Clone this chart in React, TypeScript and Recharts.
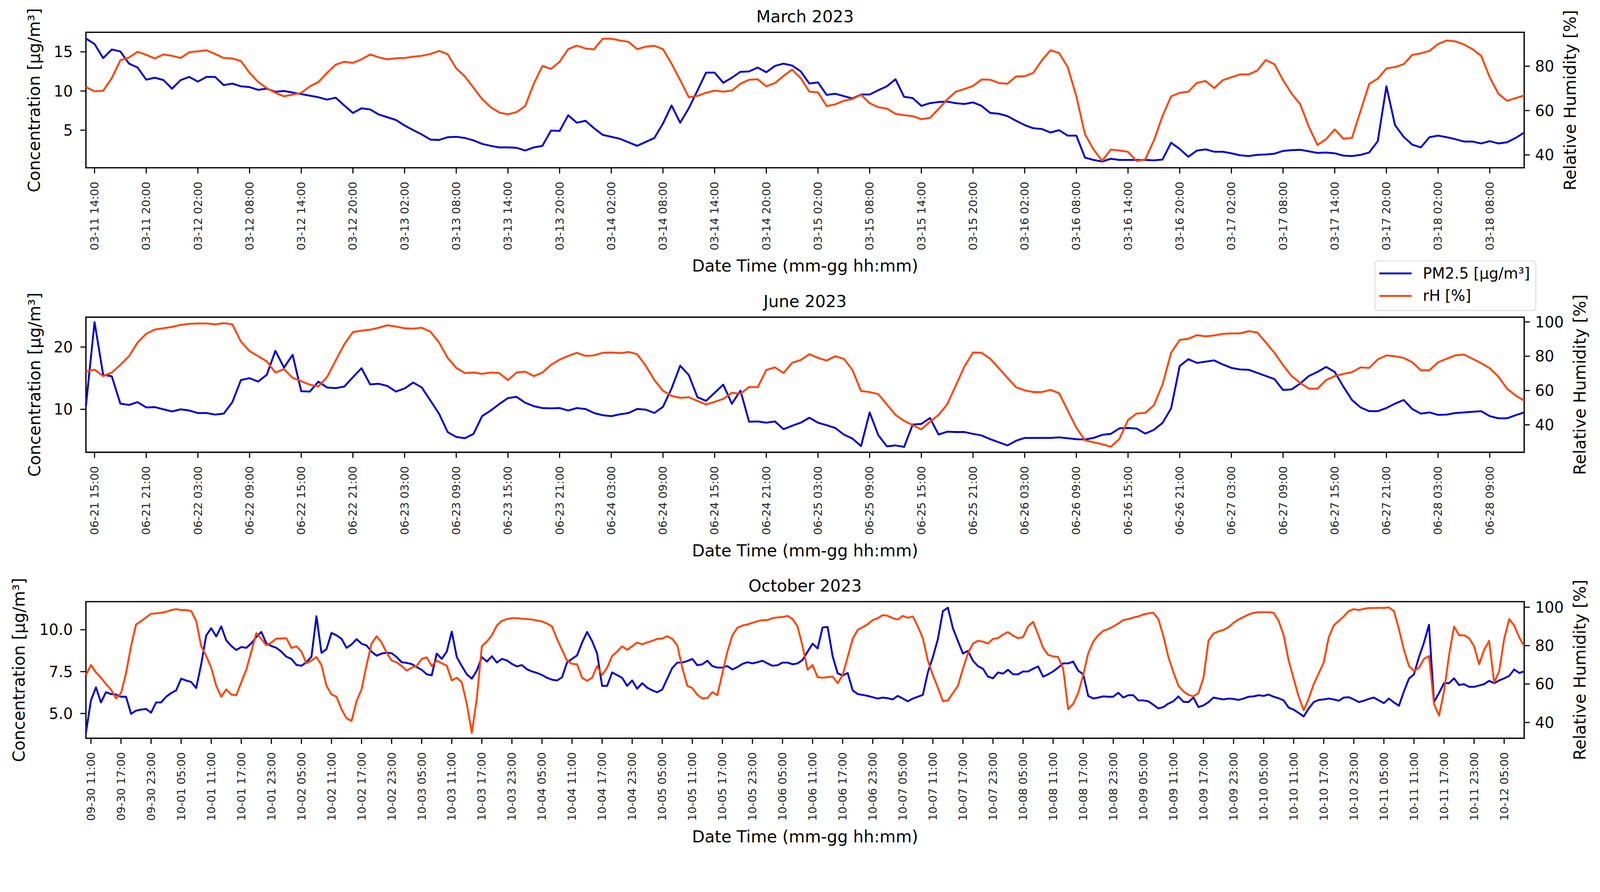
import React, { useEffect, useState } from "react";
import { LineChart, Line, XAxis, YAxis, ReferenceArea } from "recharts";

const FONT = "'DejaVu Sans', 'Noto Sans', sans-serif";
const PM_COLOR = "#0000cd";
const RH_COLOR = "#ff4500";

const PAGE_W = 4264;
const PAGE_H = 2283;
const PLOT_LEFT = 229;
const PLOT_RIGHT = 4062;
const AXIS_W = 120;
const X_AXIS_H = 300;
const TOP_PAD = 86;

// ---------- March 2023, hourly from 03-11 13:00
const marchStart = "03-11 13:00";
const marchPm = [
  16.7, 16.0, 14.2, 15.3, 15.05, 13.5, 13.0, 11.45, 11.7, 11.4, 10.3, 11.4,
  11.8, 11.2, 11.8, 11.8, 10.75, 10.95, 10.6, 10.5, 10.15, 10.3, 9.9, 10.0,
  9.8, 9.6, 9.4, 9.2, 8.9, 9.15, 8.15, 7.2, 7.8, 7.65, 7.0, 6.65,
  6.3, 5.6, 5.0, 4.45, 3.8, 3.75, 4.1, 4.15, 4.0, 3.7, 3.25, 3.0,
  2.8, 2.8, 2.75, 2.4, 2.8, 3.0, 4.95, 4.9, 6.9, 5.95, 6.2, 5.25,
  4.4, 4.15, 3.9, 3.45, 3.0, 3.5, 4.0, 5.85, 8.15, 5.95, 7.8, 10.05,
  12.35, 12.35, 11.05, 11.7, 12.45, 12.5, 13.0, 12.4, 13.2, 13.5, 13.25, 12.5,
  10.95, 11.1, 9.5, 9.65, 9.35, 9.05, 9.55, 9.55, 10.1, 10.6, 11.5, 9.25,
  9.1, 8.1, 8.45, 8.6, 8.65, 8.45, 8.35, 8.55, 8.1, 7.2, 7.1, 6.8,
  6.2, 5.65, 5.25, 5.15, 4.7, 5.0, 4.3, 4.3, 1.5, 1.2, 1.0, 1.35,
  1.2, 1.2, 1.2, 1.2, 1.15, 1.25, 3.4, 2.6, 1.6, 2.4, 2.55, 2.25,
  2.25, 2.05, 1.8, 1.7, 1.85, 1.9, 2.0, 2.35, 2.45, 2.5, 2.3, 2.1,
  2.15, 2.05, 1.75, 1.7, 1.85, 2.15, 3.6, 10.6, 5.65, 4.15, 3.15, 2.8,
  4.1, 4.3, 4.1, 3.85, 3.55, 3.55, 3.3, 3.6, 3.3, 3.45, 4.0, 4.7,
];
const marchRh = [
  70.6, 68.7, 68.9, 74.6, 82.7, 83.9, 86.5, 85.1, 83.5, 85.3, 84.7, 83.7,
  86.3, 86.7, 87.2, 85.5, 83.7, 83.5, 82.3, 77.0, 72.9, 70.1, 68.0, 66.4,
  67.2, 68.0, 70.9, 72.9, 77.0, 80.7, 82.0, 81.5, 83.1, 85.3, 84.0, 83.1,
  83.6, 83.7, 84.3, 84.7, 85.5, 86.9, 85.4, 79.0, 75.4, 70.3, 65.2, 61.5,
  59.1, 58.3, 59.3, 62.0, 72.1, 80.1, 78.8, 82.0, 87.7, 89.3, 88.0, 87.6,
  92.4, 92.4, 91.6, 91.0, 87.7, 88.8, 89.2, 87.7, 81.1, 73.7, 66.0, 66.6,
  68.0, 69.0, 68.5, 69.0, 72.1, 73.9, 74.1, 70.9, 72.4, 75.6, 78.5, 74.6,
  68.5, 68.2, 62.0, 62.8, 64.4, 65.2, 67.1, 63.3, 61.5, 60.9, 58.5, 57.9,
  57.5, 56.1, 56.7, 60.7, 65.0, 68.5, 69.7, 71.1, 74.0, 73.9, 72.4, 72.1,
  75.4, 75.5, 77.0, 82.7, 87.2, 85.9, 79.6, 66.4, 49.3, 42.4, 37.3, 42.4,
  42.0, 41.4, 37.2, 38.0, 46.5, 57.5, 66.4, 68.0, 68.5, 72.5, 73.3, 70.1,
  73.7, 75.0, 76.3, 76.3, 78.0, 82.8, 80.9, 73.7, 67.6, 62.8, 52.6, 44.5,
  47.1, 51.5, 47.3, 47.7, 59.8, 72.0, 74.4, 79.0, 79.6, 80.9, 85.1, 85.8,
  86.9, 90.0, 91.6, 91.2, 89.8, 87.7, 84.7, 75.0, 67.6, 64.4, 65.6, 66.8,
];
const marchTicks = [
  "03-11 14:00", "03-11 20:00", "03-12 02:00", "03-12 08:00", "03-12 14:00", "03-12 20:00",
  "03-13 02:00", "03-13 08:00", "03-13 14:00", "03-13 20:00", "03-14 02:00", "03-14 08:00",
  "03-14 14:00", "03-14 20:00", "03-15 02:00", "03-15 08:00", "03-15 14:00", "03-15 20:00",
  "03-16 02:00", "03-16 08:00", "03-16 14:00", "03-16 20:00", "03-17 02:00", "03-17 08:00",
  "03-17 14:00", "03-17 20:00", "03-18 02:00", "03-18 08:00",
];

// ---------- June 2023, hourly from 06-21 14:00
const juneStart = "06-21 14:00";
const junePm = [
  10.55, 24.0, 15.55, 15.3, 10.9, 10.7, 11.15, 10.3, 10.35, 10.0, 9.65, 10.0,
  9.8, 9.4, 9.4, 9.15, 9.3, 11.15, 14.7, 15.0, 14.45, 15.55, 19.4, 16.7,
  18.75, 12.9, 12.85, 14.45, 13.5, 13.4, 13.65, 15.15, 16.6, 14.0, 14.1, 13.75,
  12.85, 13.35, 14.3, 13.5, 11.4, 9.3, 6.35, 5.55, 5.35, 6.05, 8.9, 9.8,
  10.85, 11.8, 12.0, 11.05, 10.5, 10.2, 10.15, 10.2, 9.8, 10.2, 10.05, 9.4,
  9.05, 8.9, 9.2, 9.4, 10.05, 9.95, 9.4, 10.4, 13.35, 17.0, 15.5, 11.95,
  11.35, 12.65, 13.95, 10.9, 13.0, 8.0, 8.05, 7.85, 8.05, 6.8, 7.35, 7.85,
  8.65, 7.85, 7.45, 7.0, 5.95, 5.3, 4.1, 9.5, 5.85, 4.05, 4.2, 3.95,
  7.55, 7.65, 8.6, 5.95, 6.4, 6.35, 6.35, 6.05, 5.8, 5.2, 4.7, 4.2,
  4.95, 5.4, 5.4, 5.4, 5.4, 5.5, 5.35, 5.2, 5.15, 5.4, 5.9, 6.05,
  6.95, 7.0, 6.9, 6.1, 6.7, 7.8, 10.15, 16.95, 18.05, 17.45, 17.65, 17.85,
  17.2, 16.65, 16.4, 16.35, 15.85, 15.35, 14.85, 13.1, 13.2, 14.15, 15.35, 16.0,
  16.8, 16.0, 13.65, 11.5, 10.3, 9.7, 9.7, 10.2, 10.9, 11.5, 10.05, 9.3,
  9.5, 9.1, 9.15, 9.4, 9.5, 9.6, 9.7, 8.9, 8.55, 8.55, 9.05, 9.5,
];
const juneRh = [
  71.0, 72.2, 68.4, 70.5, 75.0, 80.0, 88.0, 93.1, 95.6, 96.3, 97.1, 98.3,
  98.9, 99.1, 99.1, 98.6, 99.3, 98.6, 88.5, 83.0, 80.0, 77.0, 70.5, 72.5,
  67.4, 65.4, 63.4, 62.4, 67.9, 77.5, 87.0, 94.1, 94.9, 95.5, 96.6, 98.1,
  97.3, 96.3, 96.1, 96.6, 94.3, 88.0, 79.0, 73.2, 70.2, 70.5, 69.7, 70.5,
  70.2, 66.1, 70.5, 71.0, 68.4, 70.5, 75.0, 78.0, 80.2, 82.0, 80.2, 80.5,
  82.0, 82.2, 81.8, 82.5, 81.2, 74.5, 66.1, 59.9, 56.9, 55.7, 56.1, 53.9,
  51.9, 53.4, 55.1, 58.7, 58.1, 62.1, 61.9, 72.0, 73.5, 70.2, 76.2, 77.8,
  81.2, 79.0, 77.5, 80.0, 78.5, 72.0, 59.7, 59.1, 57.9, 51.9, 45.8, 42.3,
  39.8, 37.3, 41.8, 45.8, 51.9, 62.9, 74.0, 82.2, 82.0, 78.5, 73.0, 67.4,
  61.9, 60.1, 59.1, 59.1, 60.4, 58.4, 48.3, 38.3, 31.0, 29.8, 28.7, 27.2,
  31.8, 42.8, 46.6, 47.0, 51.4, 63.4, 82.0, 89.5, 90.2, 92.3, 91.6, 92.1,
  93.1, 93.3, 93.3, 94.6, 93.9, 88.0, 82.0, 74.8, 68.4, 64.4, 61.1, 61.1,
  66.1, 68.4, 69.7, 70.7, 73.5, 73.2, 78.2, 80.5, 80.0, 79.0, 76.5, 71.8,
  71.8, 76.5, 78.5, 80.5, 81.0, 78.5, 76.0, 73.0, 68.1, 61.1, 57.1, 54.1,
];
const juneTicks = [
  "06-21 15:00", "06-21 21:00", "06-22 03:00", "06-22 09:00", "06-22 15:00", "06-22 21:00",
  "06-23 03:00", "06-23 09:00", "06-23 15:00", "06-23 21:00", "06-24 03:00", "06-24 09:00",
  "06-24 15:00", "06-24 21:00", "06-25 03:00", "06-25 09:00", "06-25 15:00", "06-25 21:00",
  "06-26 03:00", "06-26 09:00", "06-26 15:00", "06-26 21:00", "06-27 03:00", "06-27 09:00",
  "06-27 15:00", "06-27 21:00", "06-28 03:00", "06-28 09:00",
];

// ---------- October 2023, hourly from 09-30 10:00
const octStart = "09-30 10:00";
const octPm = [
  3.85, 5.78, 6.56, 5.66, 6.27, 6.16, 6.13, 6.0, 6.0, 4.98, 5.17, 5.23,
  5.27, 5.05, 5.66, 5.66, 6.0, 6.22, 6.38, 7.08, 6.97, 6.88, 6.52, 7.94,
  9.66, 10.09, 9.6, 10.2, 9.37, 9.03, 8.79, 8.97, 8.92, 9.19, 9.57, 9.87,
  9.19, 9.03, 8.92, 8.69, 8.39, 8.26, 7.9, 7.85, 8.06, 8.39, 10.81, 8.62,
  8.84, 9.81, 9.67, 9.46, 8.92, 9.12, 9.44, 9.17, 9.06, 8.69, 8.45, 8.58,
  8.63, 8.6, 8.37, 8.06, 8.02, 7.95, 7.77, 7.61, 7.34, 7.28, 8.58, 8.26,
  8.69, 9.89, 8.37, 7.83, 7.34, 7.08, 7.56, 8.37, 8.1, 8.42, 8.04, 8.26,
  8.17, 7.96, 7.81, 7.89, 7.64, 7.51, 7.42, 7.3, 7.13, 7.02, 6.97, 7.16,
  8.04, 8.26, 8.47, 9.23, 9.87, 9.33, 8.58, 6.65, 6.65, 7.45, 7.29, 7.13,
  6.65, 6.97, 6.48, 6.81, 6.54, 6.38, 6.27, 6.43, 7.08, 7.72, 8.04, 8.04,
  8.13, 8.26, 7.88, 7.94, 8.15, 7.83, 7.74, 7.74, 7.83, 7.63, 7.77, 7.96,
  8.06, 7.99, 8.06, 8.15, 7.99, 7.85, 7.88, 8.04, 8.04, 7.94, 7.99, 8.2,
  8.69, 9.17, 8.88, 10.14, 10.17, 8.42, 7.4, 7.27, 7.42, 6.38, 6.16, 6.11,
  6.05, 5.97, 5.89, 5.95, 5.91, 5.84, 6.05, 5.89, 5.73, 5.89, 6.0, 6.11,
  7.45, 8.37, 9.44, 11.11, 11.32, 10.09, 9.33, 8.58, 8.74, 8.15, 7.83, 7.67,
  7.2, 7.1, 7.45, 7.38, 7.61, 7.34, 7.34, 7.51, 7.51, 7.67, 7.81, 7.2,
  7.34, 7.51, 7.74, 7.99, 7.99, 8.1, 7.56, 7.34, 6.05, 5.89, 5.95, 6.02,
  6.0, 6.0, 6.24, 5.95, 6.09, 6.09, 5.78, 5.78, 5.73, 5.52, 5.3, 5.38,
  5.59, 5.73, 6.02, 5.7, 5.68, 5.95, 5.38, 5.48, 5.68, 5.95, 5.89, 5.84,
  5.89, 5.87, 5.81, 5.89, 6.0, 6.02, 6.09, 6.05, 6.13, 6.0, 5.91, 5.78,
  5.35, 5.23, 5.03, 4.82, 5.3, 5.68, 5.81, 5.84, 5.89, 5.84, 5.76, 5.95,
  5.97, 5.84, 5.68, 5.76, 5.87, 5.95, 5.78, 5.62, 5.89, 5.66, 5.46, 6.32,
  7.08, 7.34, 8.37, 9.23, 10.3, 5.68, 6.22, 6.81, 6.81, 7.1, 6.7, 6.75,
  6.59, 6.59, 6.67, 6.75, 6.95, 6.81, 6.97, 7.1, 7.24, 7.63, 7.42, 7.51,
];
const octRh = [
  64.7, 69.9, 66.1, 63.3, 60.0, 57.2, 52.5, 55.3, 65.6, 79.7, 91.0, 92.7,
  94.7, 96.6, 96.8, 97.1, 97.6, 98.5, 99.0, 98.5, 98.5, 98.0, 92.9, 79.7,
  74.6, 68.5, 59.1, 53.4, 57.2, 54.6, 54.2, 60.9, 67.5, 76.9, 86.5, 83.5,
  80.2, 81.6, 83.7, 83.7, 83.9, 78.8, 79.7, 76.9, 70.8, 72.2, 74.1, 69.9,
  59.1, 54.6, 53.4, 46.9, 42.2, 40.8, 51.1, 57.2, 69.9, 81.1, 84.9, 81.6,
  76.4, 72.2, 71.3, 69.4, 67.0, 68.5, 69.4, 73.1, 73.9, 69.4, 72.2, 70.8,
  69.6, 61.9, 63.3, 60.9, 49.7, 34.6, 52.5, 79.7, 82.1, 85.4, 90.5, 92.9,
  93.8, 94.3, 94.3, 94.0, 93.8, 93.6, 93.1, 92.6, 91.5, 90.0, 83.5, 77.8,
  72.2, 70.5, 70.3, 63.3, 61.7, 63.3, 69.4, 64.7, 68.5, 74.6, 76.9, 79.7,
  77.8, 79.7, 81.6, 80.7, 81.6, 82.5, 83.5, 83.7, 84.9, 83.5, 80.2, 68.5,
  59.1, 57.9, 54.4, 52.5, 52.7, 55.8, 54.2, 65.6, 76.9, 85.4, 89.3, 90.5,
  91.0, 91.9, 92.7, 93.3, 93.3, 94.3, 94.7, 94.9, 95.5, 93.8, 90.0, 79.7,
  67.5, 69.9, 63.6, 63.3, 63.6, 63.9, 60.5, 64.7, 74.1, 83.5, 88.2, 89.6,
  91.2, 93.3, 94.3, 95.9, 95.5, 94.3, 93.6, 95.5, 94.5, 95.2, 90.0, 83.9,
  72.2, 64.7, 58.1, 51.1, 51.5, 55.3, 59.1, 68.0, 76.0, 81.1, 82.5, 82.1,
  81.1, 83.5, 83.9, 85.8, 87.0, 85.2, 83.9, 84.4, 90.0, 92.4, 85.8, 78.8,
  75.2, 74.4, 74.1, 68.0, 46.9, 49.7, 55.3, 64.7, 76.0, 82.1, 85.4, 87.7,
  88.6, 90.0, 91.5, 93.3, 93.8, 94.6, 95.2, 96.2, 96.8, 97.1, 93.8, 84.9,
  74.1, 66.1, 59.1, 56.2, 54.4, 53.6, 55.3, 63.3, 82.5, 86.3, 87.4, 88.2,
  89.6, 91.9, 93.6, 94.9, 96.2, 97.1, 97.4, 97.4, 97.4, 97.1, 92.9, 85.4,
  72.2, 62.8, 53.4, 46.4, 52.5, 60.0, 65.6, 71.3, 84.4, 90.5, 92.9, 95.2,
  98.0, 99.0, 98.5, 99.2, 99.6, 99.6, 99.7, 99.6, 99.9, 98.0, 88.6, 77.8,
  69.4, 66.8, 68.5, 73.1, 74.6, 49.7, 43.6, 56.2, 75.0, 89.9, 85.4, 85.4,
  83.9, 79.7, 70.3, 77.8, 82.5, 60.9, 66.6, 83.5, 93.8, 90.5, 84.4, 79.7,
];
const octTicks = [
  "09-30 11:00", "09-30 17:00", "09-30 23:00", "10-01 05:00", "10-01 11:00", "10-01 17:00",
  "10-01 23:00", "10-02 05:00", "10-02 11:00", "10-02 17:00", "10-02 23:00", "10-03 05:00",
  "10-03 11:00", "10-03 17:00", "10-03 23:00", "10-04 05:00", "10-04 11:00", "10-04 17:00",
  "10-04 23:00", "10-05 05:00", "10-05 11:00", "10-05 17:00", "10-05 23:00", "10-06 05:00",
  "10-06 11:00", "10-06 17:00", "10-06 23:00", "10-07 05:00", "10-07 11:00", "10-07 17:00",
  "10-07 23:00", "10-08 05:00", "10-08 11:00", "10-08 17:00", "10-08 23:00", "10-09 05:00",
  "10-09 11:00", "10-09 17:00", "10-09 23:00", "10-10 05:00", "10-10 11:00", "10-10 17:00",
  "10-10 23:00", "10-11 05:00", "10-11 11:00", "10-11 17:00", "10-11 23:00", "10-12 05:00",
];

// hours between two "mm-dd hh:mm" stamps (all in 2023)
function hoursSince(start: string, label: string) {
  const parse = (s: string) => {
    const [md, hm] = s.split(" ");
    const [mo, d] = md.split("-").map(Number);
    const [hh, mm] = hm.split(":").map(Number);
    return Date.UTC(2023, mo - 1, d, hh, mm);
  };
  return (parse(label) - parse(start)) / 3600000;
}

function Caption({ x, y, size, vertical, children }: any) {
  return (
    <div
      style={{
        position: "absolute",
        left: x,
        top: y,
        transform: `translate(-50%, -50%)${vertical ? " rotate(-90deg)" : ""}`,
        fontFamily: FONT,
        fontSize: size,
        lineHeight: 1,
        whiteSpace: "nowrap",
        color: "#000",
      }}
    >
      {children}
    </div>
  );
}

type PanelProps = {
  title: string;
  plotTop: number;
  plotHeight: number;
  start: string;
  ticks: string[];
  pm: number[];
  rh: number[];
  pmDomain: [number, number];
  pmTicks: number[];
  pmDigits: number;
  rhDomain: [number, number];
  rhTicks: number[];
  leftLabelGap: number;
  rightLabelGap: number;
};

function Panel(p: PanelProps) {
  const data = p.pm.map((v, i) => ({ h: i, pm: v, rh: p.rh[i] }));
  const tickHours = p.ticks.map((t) => hoursSince(p.start, t));
  const labelAt = new Map(tickHours.map((h, i) => [h, p.ticks[i]]));
  const height = TOP_PAD + p.plotHeight + X_AXIS_H;
  const plotBottom = p.plotTop + p.plotHeight;
  const midX = (PLOT_LEFT + PLOT_RIGHT) / 2;
  const midY = p.plotTop + p.plotHeight / 2;
  const last = p.pm.length - 1;

  const xTick = (props: any) => {
    const { x, y, payload } = props;
    return (
      <text
        x={x}
        y={y}
        transform={`rotate(-90 ${x} ${y})`}
        textAnchor="end"
        dominantBaseline="central"
        fontSize={30}
        fontFamily={FONT}
        fill="#222"
      >
        {labelAt.get(payload.value) ?? ""}
      </text>
    );
  };

  const yTickStyle = { fontSize: 40, fill: "#000", fontFamily: FONT };

  return (
    <>
      <div style={{ position: "absolute", left: 0, top: p.plotTop - TOP_PAD }}>
        <LineChart
          width={PAGE_W}
          height={height}
          data={data}
          margin={{ top: TOP_PAD, right: PAGE_W - PLOT_RIGHT - AXIS_W, bottom: 0, left: PLOT_LEFT - AXIS_W }}
        >
          <XAxis
            dataKey="h"
            type="number"
            domain={[0, last]}
            ticks={tickHours}
            interval={0}
            height={X_AXIS_H}
            axisLine={false}
            tickLine={{ stroke: "#000", strokeWidth: 3 }}
            tickSize={15}
            tickMargin={22}
            tick={xTick}
          />
          <YAxis
            yAxisId="left"
            type="number"
            width={AXIS_W}
            domain={p.pmDomain}
            allowDataOverflow
            ticks={p.pmTicks}
            interval={0}
            axisLine={false}
            tickLine={{ stroke: "#000", strokeWidth: 3 }}
            tickSize={15}
            tickMargin={20}
            tick={yTickStyle}
            tickFormatter={(v: number) => v.toFixed(p.pmDigits)}
          />
          <YAxis
            yAxisId="right"
            orientation="right"
            type="number"
            width={AXIS_W}
            domain={p.rhDomain}
            allowDataOverflow
            ticks={p.rhTicks}
            interval={0}
            axisLine={false}
            tickLine={{ stroke: "#000", strokeWidth: 3 }}
            tickSize={15}
            tickMargin={14}
            tick={yTickStyle}
          />
          <Line
            yAxisId="left"
            type="linear"
            dataKey="pm"
            stroke={PM_COLOR}
            strokeWidth={5}
            strokeLinejoin="round"
            dot={false}
            activeDot={false}
            isAnimationActive={false}
          />
          <Line
            yAxisId="right"
            type="linear"
            dataKey="rh"
            stroke={RH_COLOR}
            strokeWidth={5}
            strokeLinejoin="round"
            dot={false}
            activeDot={false}
            isAnimationActive={false}
          />
          <ReferenceArea
            yAxisId="left"
            x1={0}
            x2={last}
            y1={p.pmDomain[0]}
            y2={p.pmDomain[1]}
            fill="none"
            stroke="#000"
            strokeWidth={3.5}
            ifOverflow="visible"
          />
        </LineChart>
      </div>
      <Caption x={midX} y={p.plotTop - 42} size={44}>{p.title}</Caption>
      <Caption x={midX} y={plotBottom + 262} size={44}>Date Time (mm-gg hh:mm)</Caption>
      <Caption x={PLOT_LEFT - p.leftLabelGap} y={midY} size={44} vertical>
        Concentration [μg/m³]
      </Caption>
      <Caption x={PLOT_RIGHT + p.rightLabelGap} y={midY} size={44} vertical>
        Relative Humidity [%]
      </Caption>
    </>
  );
}

function LegendBox() {
  const row = (color: string, text: string, top: number) => (
    <div style={{ position: "absolute", left: 0, top, height: 0 }}>
      <div style={{ position: "absolute", left: 11, top: -2.5, width: 86, height: 5, background: color }} />
      <div
        style={{
          position: "absolute",
          left: 127,
          top: -22,
          fontFamily: FONT,
          fontSize: 40,
          lineHeight: "44px",
          whiteSpace: "nowrap",
          color: "#000",
        }}
      >
        {text}
      </div>
    </div>
  );
  return (
    <div
      style={{
        position: "absolute",
        left: 3663,
        top: 694,
        width: 431,
        height: 134,
        boxSizing: "border-box",
        border: "2px solid #d4d4d4",
        borderRadius: 8,
        background: "rgba(255,255,255,0.85)",
      }}
    >
      {row(PM_COLOR, "PM2.5 [μg/m³]", 32)}
      {row(RH_COLOR, "rH [%]", 92)}
    </div>
  );
}

// fit the 4264x2283 drawing into whatever viewport the page really has
function useFitScale() {
  const calc = () =>
    typeof window === "undefined"
      ? 1
      : Math.min(window.innerWidth / PAGE_W, window.innerHeight / PAGE_H);
  const [scale, setScale] = useState(calc);
  useEffect(() => {
    const onResize = () => setScale(calc());
    window.addEventListener("resize", onResize);
    return () => window.removeEventListener("resize", onResize);
  }, []);
  return scale;
}

export default function App() {
  const scale = useFitScale();
  return (
    <div
      style={{
        position: "fixed",
        left: 0,
        top: 0,
        width: "100vw",
        height: "100vh",
        overflow: "hidden",
        background: "#fff",
      }}
    >
      <div
        style={{
          position: "absolute",
          left: 0,
          top: 0,
          width: PAGE_W,
          height: PAGE_H,
          transform: `scale(${scale})`,
          transformOrigin: "0 0",
        }}
      >
        <Panel
          title="March 2023"
          plotTop={86}
          plotHeight={361}
          start={marchStart}
          ticks={marchTicks}
          pm={marchPm}
          rh={marchRh}
          pmDomain={[0.2, 17.5]}
          pmTicks={[5, 10, 15]}
          pmDigits={0}
          rhDomain={[34.2, 95.3]}
          rhTicks={[40, 60, 80]}
          leftLabelGap={138}
          rightLabelGap={122}
        />
        <Panel
          title="June 2023"
          plotTop={845}
          plotHeight={360}
          start={juneStart}
          ticks={juneTicks}
          pm={junePm}
          rh={juneRh}
          pmDomain={[3.1, 24.8]}
          pmTicks={[10, 20]}
          pmDigits={0}
          rhDomain={[24, 102.8]}
          rhTicks={[40, 60, 80, 100]}
          leftLabelGap={137}
          rightLabelGap={148}
        />
        <Panel
          title="October 2023"
          plotTop={1603}
          plotHeight={364}
          start={octStart}
          ticks={octTicks}
          pm={octPm}
          rh={octRh}
          pmDomain={[3.52, 11.68]}
          pmTicks={[5, 7.5, 10]}
          pmDigits={1}
          rhDomain={[31.8, 102.9]}
          rhTicks={[40, 60, 80, 100]}
          leftLabelGap={178}
          rightLabelGap={148}
        />
        <LegendBox />
      </div>
    </div>
  );
}
